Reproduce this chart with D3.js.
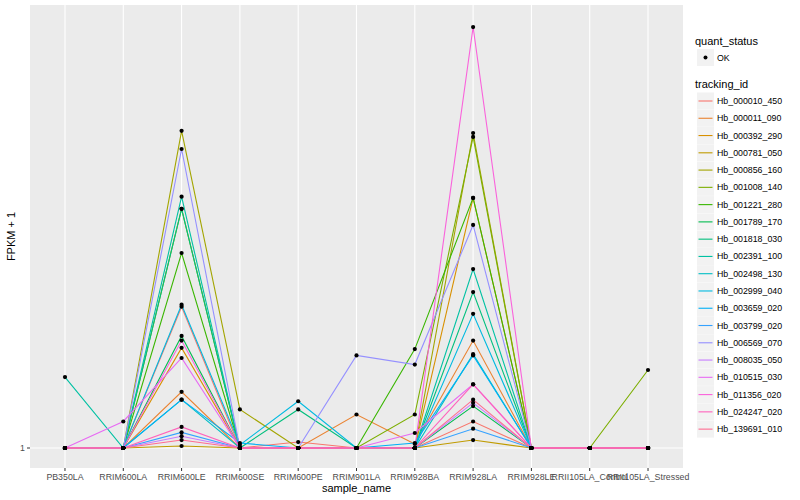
<!DOCTYPE html>
<html>
<head>
<meta charset="utf-8">
<script src="https://cdn.jsdelivr.net/npm/d3@7"></script>
<style>
  body { margin: 0; background: #fff; }
  text { font-family: "Liberation Sans", Arial, sans-serif; }
</style>
</head>
<body>
<svg width="800" height="500"></svg>
<script>
// samples on the x axis
var samples = ["PB350LA", "RRIM600LA", "RRIM600LE", "RRIM600SE", "RRIM600PE", "RRIM901LA",
               "RRIM928BA", "RRIM928LA", "RRIM928LE", "RRII105LA_Control", "RRII105LA_Stressed"];

// one entry per gene, same order as the legend
var trackingIds = ["Hb_000010_450", "Hb_000011_090", "Hb_000392_290", "Hb_000781_050", "Hb_000856_160",
                   "Hb_001008_140", "Hb_001221_280", "Hb_001789_170", "Hb_001818_030", "Hb_002391_100",
                   "Hb_002498_130", "Hb_002999_040", "Hb_003659_020", "Hb_003799_020", "Hb_006569_070",
                   "Hb_008035_050", "Hb_010515_030", "Hb_011356_020", "Hb_024247_020", "Hb_139691_010"];

// FPKM + 1, one row per gene, one column per sample
var fpkm = [
  [1, 1, 2.01, 1, 1.03, 1, 1, 1.14, 1, 1, 1],
  [1, 1, 1.32, 1, 1, 1.18, 1.02, 1.70, 1, 1, 1],
  [1, 1, 1.64, 1, 1, 1, 1, 3.44, 1, 1, 1],
  [1, 1, 1.01, 1, 1, 1, 1, 1.04, 1, 1, 1],
  [1, 1, 4.79, 1.21, 1, 1, 1, 4.74, 1, 1, 1],
  [1, 1, 3.26, 1, 1, 1, 1.18, 4.65, 1, 1, 1.47],
  [1, 1, 2.62, 1, 1, 1, 1.63, 3.44, 1, 1, 1],
  [1, 1, 1.74, 1, 1, 1, 1, 1.23, 1, 1, 1],
  [1, 1, 3.26, 1, 1.21, 1, 1, 2.16, 1, 1, 1],
  [1.42, 1, 3.46, 1, 1, 1, 1, 2.42, 1, 1, 1],
  [1, 1, 1.27, 1, 1, 1, 1, 1.59, 1, 1, 1],
  [1, 1, 2.03, 1.015, 1.26, 1, 1, 1.94, 1, 1, 1],
  [1, 1, 1.27, 1.025, 1, 1, 1.025, 1.58, 1, 1, 1],
  [1, 1, 1.08, 1, 1, 1, 1, 1.10, 1, 1, 1],
  [1, 1, 4.38, 1, 1, 1.58, 1.51, 3.01, 1, 1, 1],
  [1, 1, 1.06, 1, 1, 1, 1, 1.25, 1, 1, 1],
  [1, 1.14, 1.56, 1, 1, 1, 1.077, 1.37, 1, 1, 1],
  [1, 1, 1.70, 1, 1, 1, 1, 8.00, 1, 1, 1],
  [1, 1, 1.11, 1, 1, 1, 1, 1.37, 1, 1, 1],
  [1, 1, 1.04, 1, 1, 1, 1, 1.27, 1, 1, 1]
];

var yTicks = [1];
var yRange = [0.906, 8.92];

var colors = ["#F8766D", "#EA8331", "#D89000", "#C09B00", "#A3A500", "#7CAE00", "#39B600", "#00BB4E",
              "#00BF7D", "#00C1A3", "#00BFC4", "#00BAE0", "#00B0F6", "#35A2FF", "#9590FF", "#C77CFF",
              "#E76BF3", "#FA62DB", "#FF62BC", "#FF6C91"];

var svg = d3.select("svg");
var panel = {x: 30, y: 5, w: 653, h: 463};

var x = d3.scalePoint().domain(samples).range([panel.x, panel.x + panel.w]).padding(0.6);
var y = d3.scaleLog().domain(yRange).range([panel.y + panel.h, panel.y]);
var color = d3.scaleOrdinal().domain(trackingIds).range(colors);

// panel background + grid
svg.append("rect").attr("x", panel.x).attr("y", panel.y)
  .attr("width", panel.w).attr("height", panel.h).attr("fill", "#EBEBEB");

svg.selectAll(".vgrid").data(samples).enter().append("line")
  .attr("x1", d => x(d)).attr("x2", d => x(d))
  .attr("y1", panel.y).attr("y2", panel.y + panel.h)
  .attr("stroke", "#fff").attr("stroke-width", 1.1);

svg.selectAll(".hgrid").data(yTicks).enter().append("line")
  .attr("x1", panel.x).attr("x2", panel.x + panel.w)
  .attr("y1", d => y(d)).attr("y2", d => y(d))
  .attr("stroke", "#fff").attr("stroke-width", 1.1);

// lines
var series = trackingIds.map(function(id, i) {
  return {id: id, values: samples.map(function(s, j) { return {s: s, v: fpkm[i][j]}; })};
});

var line = d3.line().x(d => x(d.s)).y(d => y(d.v));

svg.selectAll(".gene").data(series).enter().append("path")
  .attr("d", d => line(d.values))
  .attr("fill", "none")
  .attr("stroke", d => color(d.id))
  .attr("stroke-width", 1.1);

// points
var pts = [];
series.forEach(function(d) { d.values.forEach(function(p) { pts.push(p); }); });
svg.selectAll(".pt").data(pts).enter().append("circle")
  .attr("cx", d => x(d.s)).attr("cy", d => y(d.v))
  .attr("r", 2.1).attr("fill", "#000");

// axes
var bottom = panel.y + panel.h;
svg.selectAll(".xtick").data(samples).enter().append("line")
  .attr("x1", d => x(d)).attr("x2", d => x(d))
  .attr("y1", bottom).attr("y2", bottom + 3)
  .attr("stroke", "#333");
svg.selectAll(".xlab").data(samples).enter().append("text")
  .attr("x", d => x(d)).attr("y", bottom + 12)
  .attr("text-anchor", "middle").attr("font-size", 8.8).attr("fill", "#4D4D4D")
  .text(d => d);

svg.selectAll(".ytick").data(yTicks).enter().append("line")
  .attr("x1", panel.x - 3).attr("x2", panel.x)
  .attr("y1", d => y(d)).attr("y2", d => y(d))
  .attr("stroke", "#333");
svg.selectAll(".ylab").data(yTicks).enter().append("text")
  .attr("x", panel.x - 5).attr("y", d => y(d) + 3)
  .attr("text-anchor", "end").attr("font-size", 8.8).attr("fill", "#4D4D4D")
  .text(d => d);

svg.append("text").attr("x", panel.x + panel.w / 2).attr("y", 492)
  .attr("text-anchor", "middle").attr("font-size", 11).text("sample_name");
svg.append("text")
  .attr("transform", "translate(15," + (panel.y + panel.h / 2) + ") rotate(-90)")
  .attr("text-anchor", "middle").attr("font-size", 11).text("FPKM + 1");

// legends
var lx = 697;
svg.append("text").attr("x", 695).attr("y", 45).attr("font-size", 11).text("quant_status");
svg.append("rect").attr("x", lx).attr("y", 49).attr("width", 17).attr("height", 17).attr("fill", "#F2F2F2");
svg.append("circle").attr("cx", lx + 8.5).attr("cy", 57.5).attr("r", 2).attr("fill", "#000");
svg.append("text").attr("x", 717).attr("y", 60.5).attr("font-size", 8.8).text("OK");

svg.append("text").attr("x", 695).attr("y", 88).attr("font-size", 11).text("tracking_id");
var keys = svg.selectAll(".key").data(trackingIds).enter().append("g")
  .attr("transform", (d, i) => "translate(" + lx + "," + (92.5 + i * 17.27) + ")");
keys.append("rect").attr("width", 17).attr("height", 17).attr("fill", "#F2F2F2");
keys.append("line").attr("x1", 1.5).attr("x2", 15.5).attr("y1", 8.5).attr("y2", 8.5)
  .attr("stroke", d => color(d)).attr("stroke-width", 1.1);
keys.append("text").attr("x", 20).attr("y", 11.5).attr("font-size", 8.8).text(d => d);
</script>
</body>
</html>
